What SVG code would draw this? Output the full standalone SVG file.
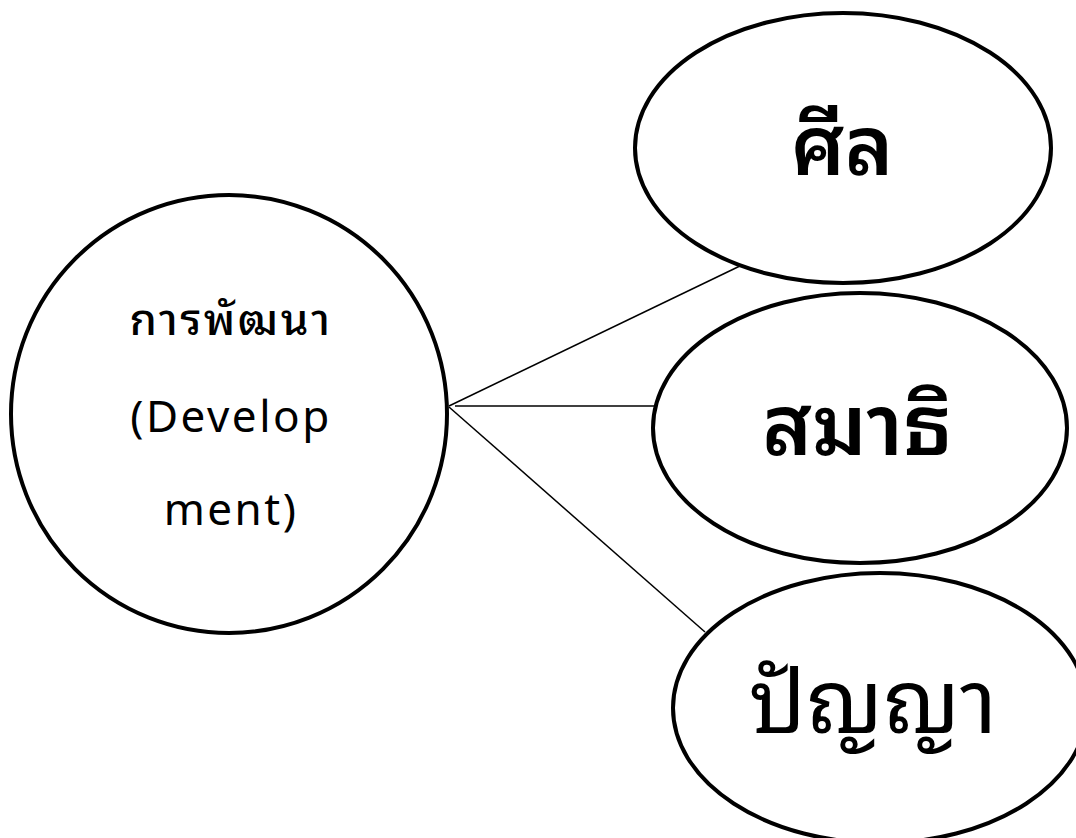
<svg xmlns="http://www.w3.org/2000/svg" width="1076" height="838" viewBox="0 0 1076 838">
<style>
.node{fill:#fff;stroke:#000;stroke-width:4}
.conn{stroke:#000;stroke-width:1.5;fill:none}
.big{font-family:"Noto Sans Thai Looped","Loma","Garuda","Noto Sans","Noto Sans Thai","Liberation Sans",sans-serif;text-anchor:middle;fill:#000}
.mid{font-family:"Noto Sans Thai Looped","Loma","Garuda","Noto Sans","Noto Sans Thai","Liberation Sans",sans-serif;font-size:44px;letter-spacing:2.5px;text-anchor:middle;fill:#000}
</style>
<rect width="1076" height="838" fill="#fff"/>
<g id="connectors">
<line class="conn" x1="449" y1="406" x2="742" y2="265"/>
<line class="conn" x1="455" y1="406" x2="662" y2="406"/>
<line class="conn" x1="449" y1="407" x2="705" y2="632"/>
</g>
<g id="node-development">
<ellipse class="node" cx="229" cy="414" rx="218" ry="219"/>
<text class="mid" x="231" y="335" font-weight="500" font-size="46" letter-spacing="3">การพัฒนา</text>
<text class="mid" x="231" y="432">(Develop</text>
<text class="mid" x="231" y="525">ment)</text>
</g>
<g id="node-sila">
<ellipse class="node" cx="843" cy="148" rx="208" ry="135"/>
<text class="big" x="842" y="175" font-size="82" font-weight="600">ศีล</text>
</g>
<g id="node-samadhi">
<ellipse class="node" cx="860" cy="428" rx="207" ry="135"/>
<text class="big" x="857" y="455" font-size="84" font-weight="600">สมาธิ</text>
</g>
<g id="node-panya">
<ellipse class="node" cx="880" cy="708" rx="207" ry="135"/>
<text class="big" x="873" y="733" font-size="88" font-weight="400">ปัญญา</text>
</g>
</svg>
